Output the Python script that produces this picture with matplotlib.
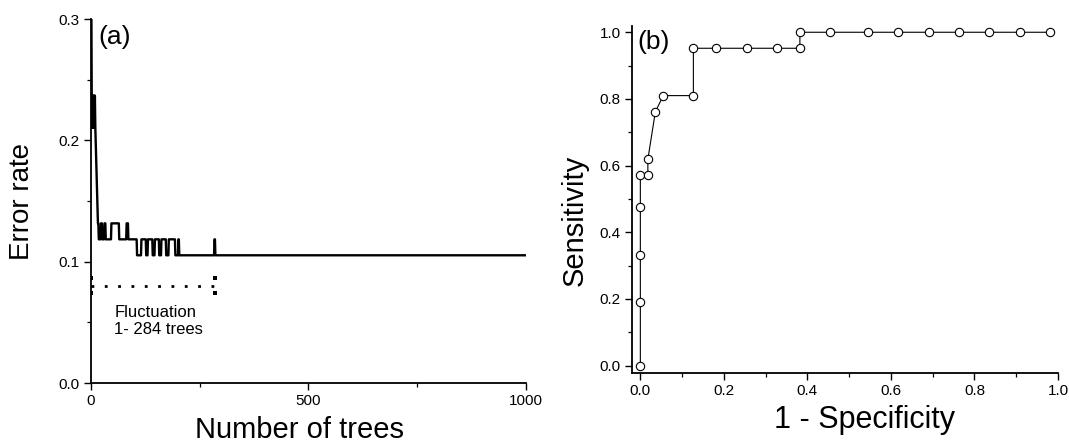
"""Random forest error rate vs. number of trees (a) and ROC curve (b)."""
import matplotlib
matplotlib.use("Agg")
import matplotlib.pyplot as plt
import numpy as np
from matplotlib.ticker import MultipleLocator

plt.rcParams["font.family"] = ["Liberation Sans", "DejaVu Sans"]

N_TEST = 76          # samples in the test set (error rate = errors / 76)
N_TREES = 1000

# (a) error-rate trace as run lengths: (number of consecutive forests, errors)
err_runs = [
    (1, 23), (1, 16), (1, 18), (1, 16), (1, 18), (1, 16), (1, 18), (1, 16),
    (1, 18), (1, 16), (1, 15), (1, 14), (1, 13), (1, 12), (1, 11),
    (2, 10), (5, 9), (3, 10), (5, 9), (3, 10), (13, 9), (18, 10), (17, 9),
    (4, 10), (20, 9), (10, 8), (11, 9), (4, 8), (11, 9), (5, 8), (10, 9),
    (5, 8), (11, 9), (6, 8), (15, 9), (7, 8), (2, 9), (81, 8), (2, 9),
]
fluct_start, fluct_end = 1, 284

# (b) ROC points
one_minus_spec = [0.0, 0.0, 0.0, 0.0, 0.0, 0.018, 0.018, 0.036, 0.055, 0.127,
                  0.127, 0.182, 0.255, 0.327, 0.382, 0.382, 0.455, 0.545,
                  0.618, 0.691, 0.764, 0.836, 0.909, 0.982]
sensitivity = [0.0, 0.190, 0.333, 0.476, 0.571, 0.571, 0.619, 0.762, 0.810,
               0.810, 0.952, 0.952, 0.952, 0.952, 0.952, 1.0, 1.0, 1.0, 1.0,
               1.0, 1.0, 1.0, 1.0, 1.0]

errors = np.concatenate([np.full(n, k) for n, k in err_runs])
errors = np.concatenate([errors, np.full(N_TREES - len(errors), err_runs[-2][1])])
err_rate = errors / N_TEST
trees = np.arange(1, N_TREES + 1)

fig = plt.figure(figsize=(10.69, 4.45), dpi=100)
ax_a = fig.add_axes([0.0851, 0.1393, 0.4069, 0.818])
ax_b = fig.add_axes([0.5912, 0.1625, 0.3985, 0.78])

LABEL_FS = 21
PANEL_FS = 19
TICK_FS = 11

# ---- panel (a)
ax_a.plot(trees, err_rate, color="black", lw=1.7)
ax_a.plot([fluct_start, fluct_end], [0.08, 0.08], color="black", lw=2.0,
          linestyle=(0, (1, 3.8)))
# bracket ends of the fluctuation range: one dot above, one below
for xv in (fluct_start, fluct_end):
    ax_a.plot([xv, xv], [0.074, 0.0865], color="black", linestyle="none",
              marker="s", markersize=2.2, markeredgewidth=0)
ax_a.text(54, 0.064, "Fluctuation\n1- 284 trees", fontsize=12, va="top",
          ha="left", linespacing=1.15)
ax_a.text(0.016, 0.95, "(a)", transform=ax_a.transAxes, fontsize=PANEL_FS,
          va="center", ha="left")

ax_a.set_xlim(0, 1000)
ax_a.set_ylim(0, 0.3)
ax_a.xaxis.set_major_locator(MultipleLocator(500))
ax_a.xaxis.set_minor_locator(MultipleLocator(250))
ax_a.yaxis.set_major_locator(MultipleLocator(0.1))
ax_a.yaxis.set_minor_locator(MultipleLocator(0.05))
ax_a.set_xticks([0, 500, 1000], ["0", "500", "1000"])
ax_a.set_yticks([0.0, 0.1, 0.2, 0.3], ["0.0", "0.1", "0.2", "0.3"])
ax_a.set_xlabel("Number of trees", fontsize=LABEL_FS, va="center")
ax_a.set_ylabel("Error rate", fontsize=LABEL_FS - 1, va="center")
ax_a.xaxis.set_label_coords(0.48, -0.129)
ax_a.yaxis.set_label_coords(-0.159, 0.5)

# ---- panel (b)
ax_b.plot(one_minus_spec, sensitivity, color="black", lw=0.8, marker="o",
          markersize=6, markerfacecolor="white", markeredgecolor="black",
          markeredgewidth=0.8)
ax_b.text(0.012, 0.953, "(b)", transform=ax_b.transAxes, fontsize=PANEL_FS,
          va="center", ha="left")
ax_b.set_xlim(-0.02, 1.0)
ax_b.set_ylim(-0.021, 1.02)
ax_b.xaxis.set_major_locator(MultipleLocator(0.2))
ax_b.xaxis.set_minor_locator(MultipleLocator(0.1))
ax_b.yaxis.set_major_locator(MultipleLocator(0.2))
ax_b.yaxis.set_minor_locator(MultipleLocator(0.1))
ax_b.xaxis.set_major_formatter(plt.FormatStrFormatter("%.1f"))
ax_b.yaxis.set_major_formatter(plt.FormatStrFormatter("%.1f"))
ax_b.set_xlabel("1 - Specificity", fontsize=LABEL_FS + 1, va="center")
ax_b.set_ylabel("Sensitivity", fontsize=LABEL_FS, va="center")
ax_b.xaxis.set_label_coords(0.545, -0.136)
ax_b.yaxis.set_label_coords(-0.134, 0.44)

for ax in (ax_a, ax_b):
    for side in ("top", "right"):
        ax.spines[side].set_visible(False)
    for side in ("left", "bottom"):
        ax.spines[side].set_linewidth(1.3)
    ax.tick_params(which="major", direction="out", length=5, width=1.0,
                   labelsize=TICK_FS, pad=3)
    ax.tick_params(which="minor", direction="out", length=3, width=0.9)

fig.savefig("out.png", dpi=100)
